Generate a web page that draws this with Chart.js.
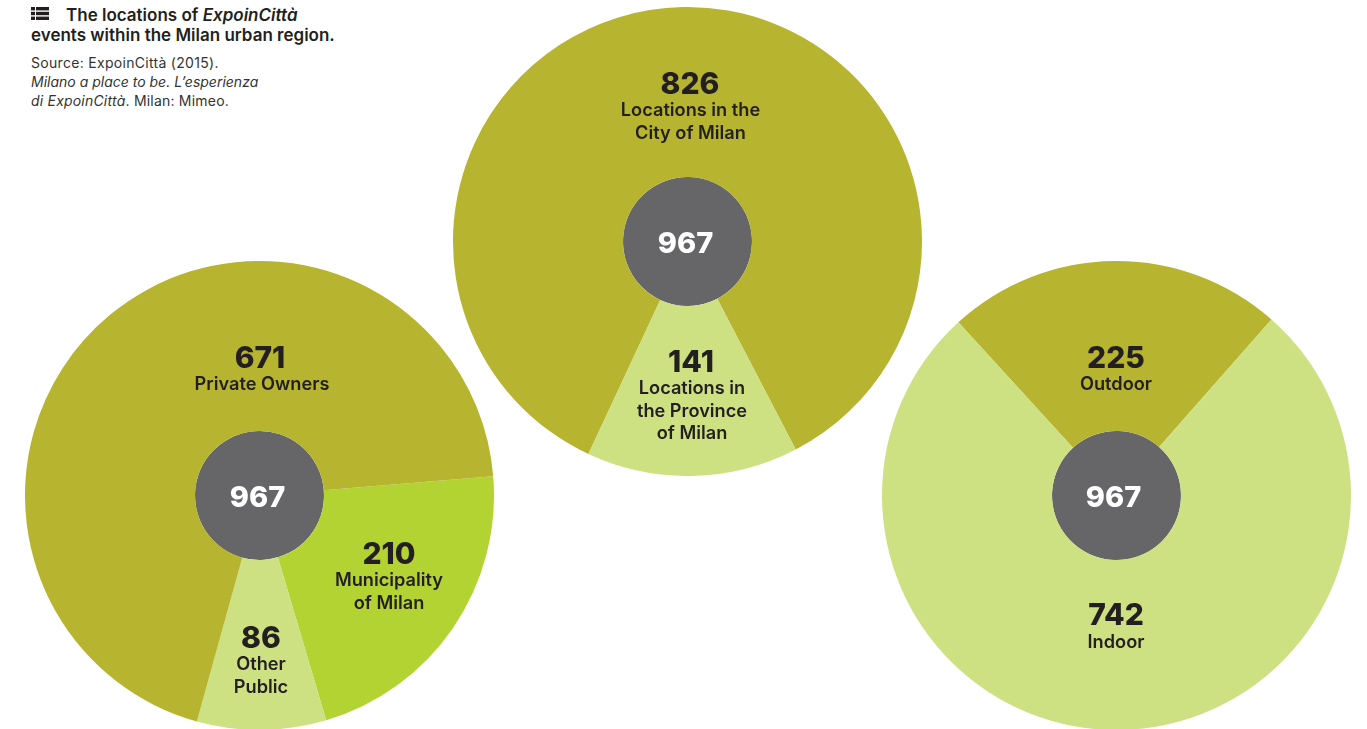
<!DOCTYPE html>
<html><head><meta charset="utf-8">
<script src="https://cdn.jsdelivr.net/npm/chart.js@4"></script>
<style>
html,body{margin:0;padding:0;background:#fff;width:1367px;height:729px;overflow:hidden;font-family:Inter,"Liberation Sans",sans-serif;color:#231f20}
.w{position:absolute;width:469px;height:469px}
.t{position:absolute;transform:translateX(-50%);text-align:center;white-space:nowrap}
.n{font-size:30px;font-weight:800;line-height:30px}
.l{font-size:18.2px;font-weight:600;line-height:22.5px}
.c{font-size:29px;font-weight:800;color:#fff;line-height:30px}
#h{position:absolute;left:31px;top:5px;font-size:17px;font-weight:600;line-height:20px}
#s{position:absolute;left:31px;top:53px;font-size:14px;line-height:19px;color:#333;}
#i{position:absolute;left:31px;top:7px;width:18px;height:13px}
</style></head><body>
<div class="w" style="left:453px;top:7px"><canvas id="a" width="469" height="469"></canvas></div>
<div class="w" style="left:25px;top:261px"><canvas id="b" width="469" height="469"></canvas></div>
<div class="w" style="left:882px;top:261px"><canvas id="d" width="469" height="469"></canvas></div>
<svg id="i" viewBox="0 0 18 13"><g fill="#231f20"><rect x="0" y="0" width="4" height="3.4"/><rect x="5" y="0" width="13" height="3.4"/><rect x="0" y="4.8" width="4" height="3.4"/><rect x="5" y="4.8" width="13" height="3.4"/><rect x="0" y="9.6" width="4" height="3.4"/><rect x="5" y="9.6" width="13" height="3.4"/></g></svg>
<div id="h"><span style="margin-left:35px">The locations of <i>ExpoinCittà</i></span><br>events within the Milan urban region.</div>
<div id="s"><span style="letter-spacing:.3px">Source: ExpoinCittà (2015).</span><br><i>Milano a place to be. L’esperienza<br></i><span style="letter-spacing:.2px"><i>di ExpoinCittà</i>. Milan: Mimeo.</span></div>
<script>
const total = [967];
const cityLabels = ["Locations in the City of Milan","Locations in the Province of Milan"];
const cityValues = [826,141];
const ownerLabels = ["Municipality of Milan","Other Public","Private Owners"];
const ownerValues = [210,86,671];
const placeLabels = ["Outdoor","Indoor"];
const placeValues = [225,742];
const olive="#b7b42f", pale="#cde082", lime="#b2d332", grey="#666567";
function pie(id,labels,values,colors,rotation){
  new Chart(document.getElementById(id),{type:'pie',data:{labels,datasets:[
    {data:values,backgroundColor:colors,borderWidth:0,weight:170},
    {data:total,backgroundColor:[grey],borderWidth:0,weight:64.5}
  ]},options:{responsive:false,animation:false,rotation,layout:{padding:0},
    plugins:{legend:{display:false},tooltip:{enabled:false}}}});
}
pie('a',cityLabels,cityValues,[olive,pale],-155);
pie('b',ownerLabels,ownerValues,[lime,pale,olive],85.3);
pie('d',placeLabels,placeValues,[olive,pale],-42.4);
const texts=[
 [690,68,'n',cityValues[0]],[690.5,98,'l','Locations in the<br>City of Milan'],
 [691,346,'n',cityValues[1]],[692,376,'l','Locations in<br>the Province<br>of Milan'],
 [685.5,228,'c',total[0]],
 [260,342,'n',ownerValues[2]],[262,372,'l','Private Owners'],
 [389,538,'n',ownerValues[0]],[389,568,'l','Municipality<br>of Milan'],
 [261,622,'n',ownerValues[1]],[261,652,'l','Other<br>Public'],
 [257.5,482,'c',total[0]],
 [1116,342,'n',placeValues[0]],[1116,372,'l','Outdoor'],
 [1116,599,'n',placeValues[1]],[1116,630,'l','Indoor'],
 [1113.5,482,'c',total[0]]
];
for(const [x,y,c,h] of texts){const e=document.createElement('div');e.className='t '+c;e.style.left=x+'px';e.style.top=y+'px';e.innerHTML=h;document.body.appendChild(e);}
</script>
</body></html>
